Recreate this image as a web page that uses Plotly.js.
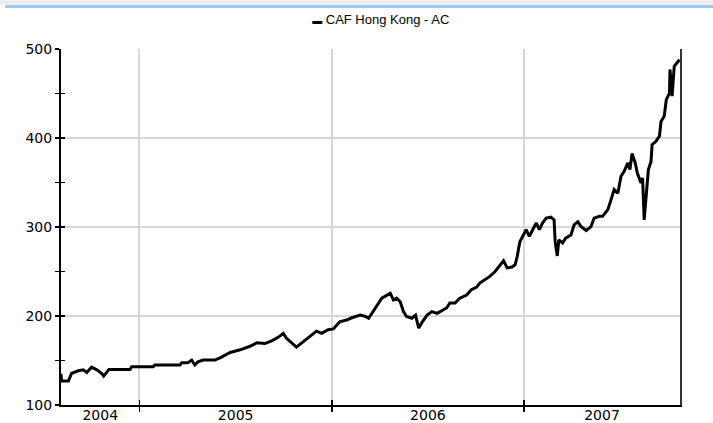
<!DOCTYPE html>
<html>
<head>
<meta charset="utf-8">
<script src="https://cdn.plot.ly/plotly-3.0.1.min.js"></script>
<style>
  html, body { margin: 0; padding: 0; background: #ffffff; }
  #wrap { position: relative; width: 713px; height: 423px; overflow: hidden; }
  #chart { position: absolute; left: 0; top: 0; width: 713px; height: 423px; }
  #topband { position: absolute; left: 0; top: 0; width: 713px; height: 5px; background: #eeeeee; }
  #topline { position: absolute; left: 5px; top: 5px; width: 708px; height: 3px; background: #9fc9f5; }
</style>
</head>
<body>
<div id="wrap">
  <div id="chart"></div>
  <div id="topband"></div>
  <div id="topline"></div>
</div>
<script>
const seriesName = 'CAF Hong Kong - AC';

const dates = [
  '2004-08-05','2004-08-06','2004-08-19','2004-08-25','2004-09-07','2004-09-16','2004-09-23',
  '2004-10-02','2004-10-12','2004-10-22','2004-10-25','2004-11-04','2004-12-14','2004-12-17',
  '2005-01-27','2005-01-30','2005-03-19','2005-03-22','2005-04-03','2005-04-10','2005-04-16',
  '2005-04-22','2005-05-02','2005-05-24','2005-06-03','2005-06-22','2005-07-11','2005-07-30',
  '2005-08-12','2005-08-27','2005-09-09','2005-09-21','2005-10-01','2005-10-07','2005-10-26',
  '2005-11-08','2005-11-20','2005-12-03','2005-12-13','2005-12-25','2006-01-04','2006-01-16',
  '2006-01-29','2006-02-08','2006-02-24','2006-03-06','2006-03-12','2006-03-22','2006-03-31',
  '2006-04-06','2006-04-16','2006-04-22','2006-04-28','2006-05-04','2006-05-11','2006-05-17',
  '2006-05-23','2006-06-02','2006-06-09','2006-06-15','2006-06-21','2006-07-01','2006-07-10',
  '2006-07-20','2006-08-01','2006-08-07','2006-08-13','2006-08-23','2006-09-01','2006-09-14',
  '2006-09-23','2006-10-03','2006-10-09','2006-10-28','2006-11-07','2006-11-17','2006-11-23',
  '2006-11-30','2006-12-09','2006-12-15','2006-12-19','2006-12-24','2006-12-30','2007-01-05',
  '2007-01-11','2007-01-18','2007-01-24','2007-01-30','2007-02-05','2007-02-12','2007-02-21',
  '2007-02-27','2007-03-01','2007-03-05','2007-03-08','2007-03-15','2007-03-21','2007-03-31',
  '2007-04-06','2007-04-13','2007-04-19','2007-04-29','2007-05-08','2007-05-14','2007-05-24',
  '2007-05-30','2007-06-09','2007-06-15','2007-06-21','2007-06-28','2007-07-04','2007-07-10',
  '2007-07-17','2007-07-21','2007-07-25','2007-07-31','2007-08-04','2007-08-11','2007-08-14',
  '2007-08-17','2007-08-21','2007-08-25','2007-08-30','2007-09-01','2007-09-08','2007-09-15',
  '2007-09-18','2007-09-24','2007-09-28','2007-10-04','2007-10-05','2007-10-09','2007-10-13',
  '2007-10-20','2007-10-23'
];

const values = [
  135, 127, 127, 135.5, 138.5, 139.5, 136.5,
  142.5, 139.5, 135, 132.5, 140, 140, 143,
  143, 145, 145, 147.5, 147.5, 150.5, 145,
  148.5, 150.5, 150.5, 153, 159, 162, 166,
  170, 169, 172, 176, 180.5, 175, 165,
  171, 177.5, 183, 180.5, 184.5, 185.5, 193.5,
  195.5, 198, 201, 199.5, 197.5, 207, 214.5,
  220, 223.5, 225.5, 218, 220, 216, 205,
  199.5, 197.5, 201, 186.5, 192.5, 201, 205,
  203, 207, 209, 214.5, 214.5, 220, 223.5,
  229.5, 232.5, 237, 244.5, 250, 257.5, 262,
  254, 255, 257.5, 267, 283.5, 291, 297,
  289.5, 297, 304.5, 297, 304.5, 310, 311,
  308, 283.5, 267.5, 285.5, 282, 287.5, 291,
  302.5, 306, 300.5, 296, 300.5, 310, 312,
  312, 319.5, 330.5, 342, 338, 357, 362.5,
  372, 364.5, 382.5, 372, 360.5, 349.5, 355,
  308, 334.5, 364.5, 373.5, 392.5, 396, 402,
  418.5, 424.5, 443, 450.5, 477, 447, 480.5,
  486, 488
];

const yearLabels = ['2004', '2005', '2006', '2007'];
const yearStarts = ['2005-01-01', '2006-01-01', '2007-01-01'];
const xRange = ['2004-08-05', '2007-10-24'];
const yRange = [100, 500];

// label positions: centre of the visible part of each year
const r0 = new Date(xRange[0] + 'T00:00:00Z').getTime();
const r1 = new Date(xRange[1] + 'T00:00:00Z').getTime();
const labelPos = yearLabels.map(function (y) {
  const a = Math.max(Date.UTC(+y, 0, 1), r0);
  const b = Math.min(Date.UTC(+y + 1, 0, 1), r1);
  return new Date((a + b) / 2).toISOString().slice(0, 19).replace('T', ' ');
});

const tickFont = { family: 'DejaVu Sans, sans-serif', size: 14, color: '#000000' };

const mainTrace = {
  type: 'scatter', mode: 'lines', name: seriesName,
  x: dates, y: values,
  line: { color: '#000000', width: 3 },
  showlegend: false, hoverinfo: 'skip'
};
// carriers for the overlaid axes (nothing drawn)
const carrier2 = { type: 'scatter', mode: 'none', x: dates, y: values, xaxis: 'x2', yaxis: 'y2', showlegend: false, hoverinfo: 'skip' };
const carrier3 = { type: 'scatter', mode: 'none', x: dates, y: values, xaxis: 'x3', yaxis: 'y3', showlegend: false, hoverinfo: 'skip' };

const layout = {
  width: 713,
  height: 423,
  margin: { l: 61, r: 33, t: 49, b: 18, pad: 0 },
  paper_bgcolor: '#ffffff',
  plot_bgcolor: '#ffffff',
  showlegend: false,
  title: {
    text: '<span style="font-size:10px">▬</span> ' + seriesName,
    font: { family: 'Liberation Sans, Arial, sans-serif', size: 13, color: '#000000' },
    x: 0.534, xref: 'container', xanchor: 'center',
    y: 0.955, yref: 'container', yanchor: 'middle'
  },
  xaxis: {
    type: 'date', range: xRange, autorange: false,
    tickmode: 'array', tickvals: yearStarts, showticklabels: false,
    ticks: 'outside', ticklen: 5, tickwidth: 1.5, tickcolor: '#000000',
    showgrid: true, gridcolor: '#d6d6d6', gridwidth: 2,
    showline: true, linecolor: '#000000', linewidth: 2,
    zeroline: false, fixedrange: true
  },
  xaxis2: {
    type: 'date', range: xRange, autorange: false, overlaying: 'x', anchor: 'y2',
    tickmode: 'array', tickvals: yearStarts, showticklabels: false,
    ticks: 'inside', ticklen: 5, tickwidth: 1.5, tickcolor: '#000000',
    showgrid: false, showline: false, zeroline: false, fixedrange: true
  },
  xaxis3: {
    type: 'date', range: xRange, autorange: false, overlaying: 'x', anchor: 'y3',
    tickmode: 'array', tickvals: labelPos, ticktext: yearLabels,
    ticks: '', showticklabels: true, tickfont: tickFont, ticklabelstandoff: 0,
    showgrid: false, showline: false, zeroline: false, fixedrange: true
  },
  yaxis: {
    range: yRange, autorange: false,
    tickmode: 'linear', tick0: 0, dtick: 100,
    ticks: 'outside', ticklen: 4, tickwidth: 1.5, tickcolor: '#000000',
    minor: { tickmode: 'linear', tick0: 0, dtick: 50, ticks: 'outside', ticklen: 4, tickwidth: 1.5, tickcolor: '#000000', showgrid: false },
    showgrid: true, gridcolor: '#d6d6d6', gridwidth: 2,
    showline: true, linecolor: '#000000', linewidth: 2,
    tickfont: tickFont, zeroline: false, fixedrange: true
  },
  yaxis2: {
    range: yRange, autorange: false, overlaying: 'y', side: 'left', anchor: 'x2',
    tickmode: 'linear', tick0: 0, dtick: 100,
    ticks: 'inside', ticklen: 4, tickwidth: 1.5, tickcolor: '#000000',
    minor: { tickmode: 'linear', tick0: 0, dtick: 50, ticks: 'inside', ticklen: 4, tickwidth: 1.5, tickcolor: '#000000', showgrid: false },
    showticklabels: false, showgrid: false, showline: false, zeroline: false, fixedrange: true
  },
  yaxis3: {
    range: yRange, autorange: false, overlaying: 'y', side: 'right', anchor: 'x3',
    ticks: '', showticklabels: false, showgrid: false,
    showline: true, linecolor: '#333333', linewidth: 2, zeroline: false, fixedrange: true
  }
};

Plotly.newPlot('chart', [mainTrace, carrier2, carrier3], layout, { staticPlot: true, displayModeBar: false });
</script>
</body>
</html>
